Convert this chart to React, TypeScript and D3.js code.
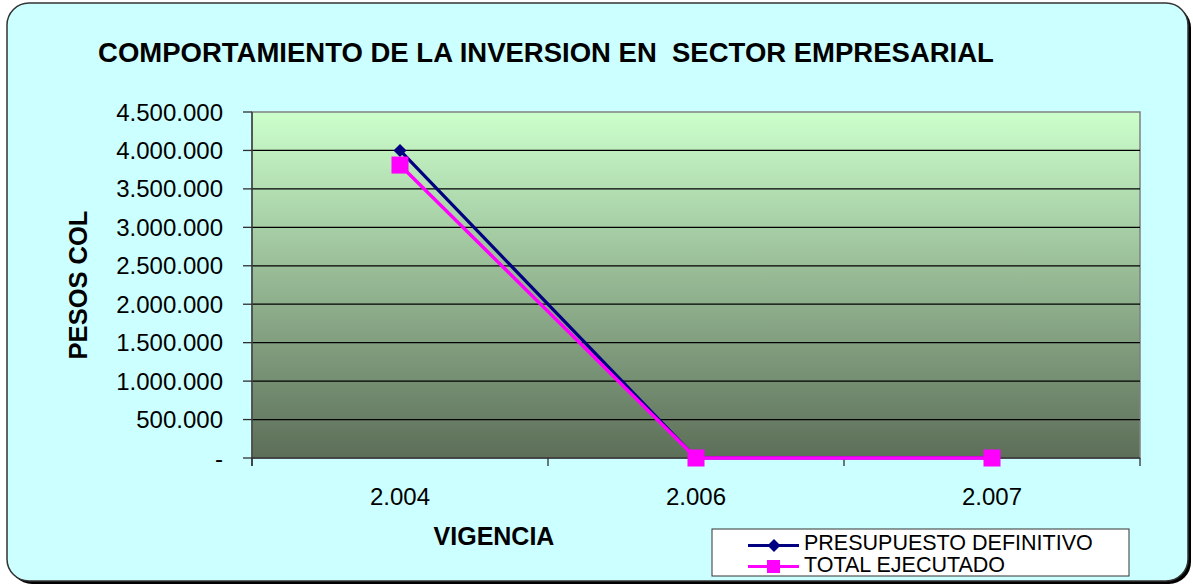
import React from "react";
import * as d3 from "d3";

const categories = ["2.004", "2.006", "2.007"];
const presupuesto = [4000000, 0, 0];
const ejecutado = [3810000, 0, 0];
const yTicks = [0, 500000, 1000000, 1500000, 2000000, 2500000, 3000000, 3500000, 4000000, 4500000];
const seriesNames = ["PRESUPUESTO DEFINITIVO", "TOTAL EJECUTADO"];

const W = 1193, H = 586;
const plot = { left: 252, right: 1140, top: 112, bottom: 458 };
const FONT = "'Liberation Sans', Arial, sans-serif";

const fmt = (v: number) => (v === 0 ? "-" : d3.format(",")(v).replace(/,/g, "."));

export default function App() {
  const x = d3.scaleBand().domain(categories).range([plot.left, plot.right]).padding(0);
  const y = d3.scaleLinear().domain([0, 4500000]).range([plot.bottom, plot.top]);
  const cx = (c: string) => (x(c) as number) + x.bandwidth() / 2;
  const line = d3.line<number>().x((_, i) => cx(categories[i])).y((d) => y(d));
  const boundaries = [...categories.map((c) => x(c) as number), plot.right];

  return (
    <svg width={W} height={H} style={{ position: "absolute", left: 0, top: 0 }}>
      <defs>
        <linearGradient id="bg" x1="0" y1="0" x2="0" y2="1">
          <stop offset="0%" stopColor="#ccffcc" />
          <stop offset="100%" stopColor="#5c6e58" />
        </linearGradient>
      </defs>
      {/* outer frame with shadow */}
      <rect x={10} y={6} width={1181} height={578} rx={22} ry={22} fill="#000" />
      <rect x={7} y={3} width={1181} height={578} rx={22} ry={22} fill="#ccffff" stroke="#333" strokeWidth={1.5} />

      {/* title */}
      <text x={546} y={62} textAnchor="middle" fontFamily={FONT} fontWeight="bold" fontSize={27.5} style={{ whiteSpace: "pre" }}>
        {"COMPORTAMIENTO DE LA INVERSION EN  SECTOR EMPRESARIAL"}
      </text>

      {/* plot area */}
      <rect x={plot.left} y={plot.top} width={plot.right - plot.left} height={plot.bottom - plot.top} fill="url(#bg)" stroke="#808080" strokeWidth={1.5} />
      {yTicks.filter((t) => t > 0 && t < 4500000).map((t) => (
        <line key={t} x1={plot.left} x2={plot.right} y1={y(t)} y2={y(t)} stroke="#000" strokeWidth={1.2} />
      ))}
      {/* axes */}
      <line x1={plot.left} x2={plot.left} y1={plot.top} y2={plot.bottom + 8} stroke="#404040" strokeWidth={1.5} />
      <line x1={plot.left} x2={plot.right} y1={plot.bottom} y2={plot.bottom} stroke="#303030" strokeWidth={1.5} />
      {yTicks.map((t) => (
        <g key={t}>
          <line x1={plot.left - 9} x2={plot.left} y1={y(t)} y2={y(t)} stroke="#303030" strokeWidth={1.3} />
          <text x={223} y={y(t) + 8.5} textAnchor="end" fontFamily={FONT} fontSize={24} fill="#000">
            {fmt(t)}
          </text>
        </g>
      ))}
      {boundaries.map((b, i) => (
        <line key={i} x1={b} x2={b} y1={plot.bottom} y2={plot.bottom + 8} stroke="#303030" strokeWidth={1.3} />
      ))}
      {categories.map((c) => (
        <text key={c} x={cx(c)} y={505} textAnchor="middle" fontFamily={FONT} fontSize={24}>
          {c}
        </text>
      ))}

      {/* axis titles */}
      <text x={494} y={545} textAnchor="middle" fontFamily={FONT} fontWeight="bold" fontSize={25}>VIGENCIA</text>
      <text transform={`translate(87,285) rotate(-90)`} textAnchor="middle" fontFamily={FONT} fontWeight="bold" fontSize={25.5}>PESOS COL</text>

      {/* series */}
      <path d={line(presupuesto) as string} fill="none" stroke="#000080" strokeWidth={3.2} />
      {presupuesto.map((v, i) => {
        const px = cx(categories[i]), py = y(v);
        return <path key={i} d={`M${px},${py - 6.5}L${px + 6.5},${py}L${px},${py + 6.5}L${px - 6.5},${py}Z`} fill="#000080" />;
      })}
      <path d={line(ejecutado) as string} fill="none" stroke="#ff00ff" strokeWidth={3.4} />
      {ejecutado.map((v, i) => {
        const px = cx(categories[i]), py = y(v);
        return <rect key={i} x={px - 8.5} y={py - 8.5} width={17} height={17} fill="#ff00ff" />;
      })}

      {/* legend */}
      <rect x={712} y={529} width={417} height={47} fill="#fff" stroke="#333" strokeWidth={1} />
      <line x1={748} x2={799} y1={545.5} y2={545.5} stroke="#000080" strokeWidth={3} />
      <path d={`M774,539L780.5,545.5L774,552L767.5,545.5Z`} fill="#000080" />
      <line x1={748} x2={799} y1={566.5} y2={566.5} stroke="#ff00ff" strokeWidth={3} />
      <rect x={767} y={560} width={13} height={13} fill="#ff00ff" />
      <text x={804} y={550} fontFamily={FONT} fontSize={21.5}>{seriesNames[0]}</text>
      <text x={804} y={572} fontFamily={FONT} fontSize={21.5}>{seriesNames[1]}</text>
    </svg>
  );
}
